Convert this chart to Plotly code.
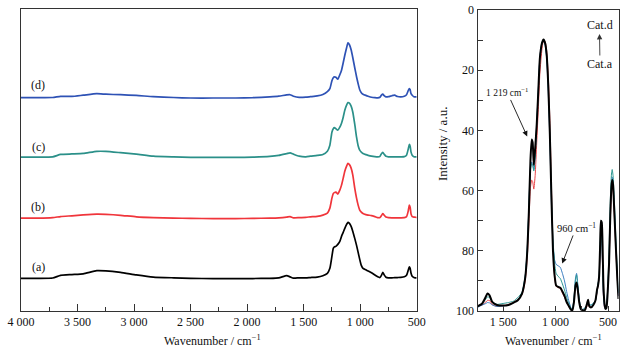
import plotly.graph_objects as go

# ---------------- Left panel: stacked FT-IR spectra ----------------
wn_left = [4000, 3850, 3720, 3650, 3550, 3450, 3330, 3250, 3120, 2980, 2830, 2650, 2500,
           2300, 2100, 1950, 1800, 1720, 1650, 1620, 1590, 1540, 1480, 1440, 1380, 1330,
           1290, 1268, 1250, 1238, 1228, 1215, 1198, 1180, 1165, 1150, 1136, 1120, 1108,
           1095, 1080, 1065, 1048, 1032, 1018, 1004, 990, 975, 950, 930, 900, 870, 845,
           825, 812, 800, 788, 772, 750, 720, 695, 670, 640, 610, 590, 575, 565, 558, 550,
           540, 525, 510, 500]

spec_a = [0, 0, 0.3, 3, 3.8, 4.5, 7.7, 7.5, 6, 3.5, 1.3, 0.5, 0,
          -0.3, -0.3, -0.2, 0, 0.5, 2.7, 1.5, 0.2, 0.5, 0.5, 0.8, 1.2, 2.5,
          5, 10, 22, 30, 31.5, 32, 34, 37, 42, 46, 50, 54, 56,
          55, 52, 47, 40, 33, 26, 19, 13, 10, 8.5, 7.3, 5.5, 3.3, 1.5,
          0.8, 3, 6, 3.5, 1, 0.5, 0.5, 0.7, 0.8, 1, 1.5, 3, 8, 11.5, 10, 5,
          2, 0.8, 0.5, 0.3]

spec_b = [0, 0, 0.5, 1.5, 2.3, 3.2, 4, 3.8, 2.8, 1.3, 0.5, 0, -0.3,
          -0.5, -0.5, -0.3, 0, 0.3, 1, 1.5, 0.3, 0.5, 0.8, 1.3, 1.8, 3,
          5, 10, 20, 24.5, 25.5, 26, 24, 28, 33, 40, 47, 52, 54.7,
          53.5, 50, 43, 30, 20, 13, 8, 6, 4.5, 3.5, 3, 2.5, 1.5, 0.5,
          0.5, 2.5, 4.5, 3, 1, 0.5, 0.3, 0.3, 0.3, 0.3, 0.5, 1.5, 7, 13, 11, 4,
          1.5, 1, 0.8, 0.5]

spec_c = [0, 0, 0.3, 2.7, 3.2, 3.7, 5.8, 5.8, 4.5, 3, 1, 0.2, -0.3,
          -0.3, -0.3, 0, 0.7, 1.7, 3.5, 4.3, 3, 1, 0.3, 1, 1.7, 2.7,
          6, 12, 25, 28.5, 29.5, 28.5, 27, 30, 34, 40, 47, 52, 54.7,
          54, 51, 45, 33, 20, 11.5, 7, 5, 3.7, 2.5, 1.8, 1, 0.5, 0.3,
          0.8, 3.5, 4.7, 3, 0.8, 0.3, 0.3, 0.3, 0.3, 0.3, 0.5, 2, 8, 12.7, 11, 5,
          2, 0.5, 0.3, 0.3]

spec_d = [0, 0, 0.2, 1.3, 1.3, 2.5, 4, 3.5, 3, 2.3, 1, 0.2, -0.3,
          -0.3, -0.3, 0, 0.8, 1.5, 2.8, 3, 1.5, 0.3, 0.5, 1, 1.8, 3.2,
          6, 9, 17, 20, 20.8, 20.5, 18.5, 23, 27.5, 35, 42.5, 50, 55,
          53, 48, 40, 30, 21, 14, 8, 5, 3.5, 2.3, 1.5, 0.5, 0, -0.2,
          0.5, 2.5, 3.5, 2, 0.8, 1, 2, 2.5, 1.2, 0.8, 1.5, 3, 7, 9.2, 8, 4,
          2.5, 1, 0.8, 0.8]

left_labels = ["(a)", "(b)", "(c)", "(d)"]
left_offsets = [32.7, 93, 154, 213.5]
left_series = [spec_a, spec_b, spec_c, spec_d]
left_colors = ["#000000", "#f0353b", "#2b9089", "#2e52b5"]

left_ticks = [4000, 3500, 3000, 2500, 2000, 1500, 1000, 500]
left_ticktext = ["4 000", "3 500", "3 000", "2 500", "2 000", "1 500", "1 000", "500"]

# ---------------- Right panel: overlaid spectra (Cat.a - Cat.d) ----------------
wn_right = [1745, 1700, 1665, 1650, 1630, 1605, 1560, 1500, 1450, 1400, 1360, 1320, 1290,
            1270, 1255, 1240, 1228, 1219, 1208, 1195, 1180, 1165, 1150, 1130, 1115, 1100,
            1085, 1070, 1055, 1040, 1025, 1010, 995, 975, 955, 935, 915, 895, 875, 855,
            840, 825, 810, 800, 790, 775, 760, 740, 720, 700, 690, 678, 660, 640, 620,
            605, 595, 585, 575, 568, 560, 552, 545, 535, 525, 515, 505, 490, 478, 467,
            460, 452, 440, 425, 410, 400]

int_a = [98.5, 97.5, 95.2, 94.2, 94.8, 97, 98, 98.2, 98, 97.2, 96.4, 94.2, 89,
         80, 67, 50, 43, 44, 51.5, 46, 38, 27, 16, 11, 9.8, 11,
         15, 25, 41, 62, 80, 88, 91.5, 92, 92.3, 93.5, 95, 97, 98.3, 99.5,
         99.8, 97, 91.5, 90.5, 92.5, 97, 99.3, 99.8, 99.7, 97.5, 96.3, 98.5, 98.8, 98, 96.5,
         93, 91.5, 88.5, 78, 70, 70.5, 78, 90, 97, 99.3, 99, 95, 84, 68, 58.5,
         56.5, 58, 67, 79, 90, 96]
int_b = [98.5, 98, 97, 96.5, 96.5, 97.8, 98.5, 98.3, 97.8, 97, 96.2, 94.5, 90,
         82, 71, 59, 56.5, 57, 59.5, 55, 44, 33, 21, 13, 10, 10.5,
         13.5, 22, 36, 58, 78, 88.5, 91.8, 92.2, 92.5, 94, 95.5, 97, 98.5, 99.5,
         99.8, 97, 91, 90.5, 92.5, 97, 99.3, 99.8, 99.5, 98.5, 98, 98.5, 98.5, 98, 96.5,
         94, 91.5, 89, 80, 74, 76, 85, 94, 98.5, 99.3, 98.5, 94, 84, 70, 60,
         58, 59.5, 68, 80, 90, 95]
int_c = [98.5, 97.5, 96, 95.3, 95.5, 97, 97.8, 97.5, 97.2, 96.7, 95.5, 93.8, 88.5,
         79.5, 66, 53, 51, 51.5, 53.5, 49, 38, 27, 16, 11, 9.8, 11,
         15, 25, 40, 60, 76, 84, 87.5, 88.5, 89.2, 91, 93, 95.5, 97.5, 99,
         99.5, 96, 89.5, 88, 91, 96, 99, 99.5, 99, 98, 97.5, 98, 98, 97.5, 96.5,
         93.5, 91, 88.5, 77, 73, 75, 84, 93, 97.5, 99, 98, 93.5, 80, 63, 54.5,
         53, 55, 63, 76, 88, 94]
int_d = [98.8, 98, 97.5, 97.2, 97.3, 98, 98.5, 98.3, 98, 97.2, 96.3, 94, 88.5,
         79, 65.5, 52, 50.5, 51, 53, 48, 37.5, 26.5, 15.5, 10.8, 9.8, 11.5,
         16, 27, 43, 64, 78, 83, 84.5, 85, 85.5, 87.5, 90, 93.5, 96.5, 98.8,
         99.5, 96, 89, 87.5, 90.5, 96, 99, 99.5, 99, 98, 97.5, 98, 98, 97.5, 96.5,
         93.5, 91, 89, 79, 74.5, 76, 85, 94, 98.5, 99.3, 98.5, 94.5, 83, 67, 57.5,
         55.5, 57, 66, 78.5, 89.5, 95]

right_series = [("Cat.b", int_b, "#e8474a", 1.0),
                ("Cat.d", int_d, "#3b7fc0", 1.0),
                ("Cat.c", int_c, "#2a9690", 1.0),
                ("Cat.a", int_a, "#000000", 2.0)]

right_ticks = [1500, 1000, 500]
right_ticktext = ["1 500", "1 000", "500"]
right_yticks = [0, 20, 40, 60, 80, 100]

FONT = "Liberation Serif"
W, H = 639, 352

fig = go.Figure()

for lab, off, vals, col in zip(left_labels, left_offsets, left_series, left_colors):
    fig.add_trace(go.Scatter(
        x=wn_left, y=[off + v for v in vals], mode="lines", name=lab,
        line=dict(color=col, width=1.7, shape="spline", smoothing=0.5),
        xaxis="x", yaxis="y", showlegend=False, hoverinfo="skip"))

for name, vals, col, w in right_series:
    fig.add_trace(go.Scatter(
        x=wn_right, y=vals, mode="lines", name=name,
        line=dict(color=col, width=w, shape="spline", smoothing=0.5),
        xaxis="x2", yaxis="y2", showlegend=False, hoverinfo="skip"))

ydom = [1 - 311 / H, 1 - 9.3 / H]
ydom2 = [1 - 311 / H, 1 - 10 / H]

axis_common = dict(showline=True, linecolor="#333333", linewidth=1, mirror=True,
                   showgrid=False, zeroline=False, automargin=False,
                   tickfont=dict(family=FONT, size=12, color="#111111"))

fig.update_layout(
    width=W, height=H, autosize=False,
    margin=dict(l=0, r=0, t=0, b=0, pad=0, autoexpand=False),
    paper_bgcolor="white", plot_bgcolor="white",
    xaxis=dict(domain=[21 / W, 416.7 / W], range=[4000, 500],
               tickmode="array", tickvals=left_ticks, ticktext=left_ticktext,
               ticks="inside", ticklen=7, tickcolor="#333333",
               minor=dict(ticks="inside", ticklen=4, dtick=250, tick0=0, tickcolor="#333333"),
               anchor="y", **axis_common),
    yaxis=dict(domain=ydom, range=[0, 302], showticklabels=False, ticks="",
               anchor="x", **axis_common),
    xaxis2=dict(domain=[477.5 / W, 618.5 / W], range=[1745, 400],
                tickmode="array", tickvals=right_ticks, ticktext=right_ticktext,
                ticks="inside", ticklen=5, tickcolor="#333333",
                minor=dict(ticks="inside", ticklen=5, dtick=250, tick0=0, tickcolor="#333333"),
                anchor="y2", **axis_common),
    yaxis2=dict(domain=ydom2, range=[100, 0],
                tickmode="array", tickvals=right_yticks,
                ticks="inside", ticklen=5, tickcolor="#333333",
                minor=dict(ticks="inside", ticklen=5, dtick=10, tick0=0, tickcolor="#333333"),
                anchor="x2", **axis_common),
)

ann = []
# curve labels on left panel
label_y = [266.7, 206.7, 146.7, 85]
for lab, yy in zip(left_labels, label_y):
    ann.append(dict(text=lab, xref="paper", yref="paper", x=38 / W, y=1 - yy / H,
                    showarrow=False, font=dict(family=FONT, size=12, color="#111111"),
                    xanchor="center", yanchor="middle"))
# axis titles
ann.append(dict(text="Wavenumber / cm<sup>−1</sup>", xref="paper", yref="paper",
                x=212 / W, y=1 - 340 / H, showarrow=False,
                font=dict(family=FONT, size=12, color="#111111"),
                xanchor="center", yanchor="middle"))
ann.append(dict(text="Wavenumber / cm<sup>−1</sup>", xref="paper", yref="paper",
                x=553 / W, y=1 - 340 / H, showarrow=False,
                font=dict(family=FONT, size=12, color="#111111"),
                xanchor="center", yanchor="middle"))
ann.append(dict(text="Intensity / a.u.", xref="paper", yref="paper",
                x=442 / W, y=1 - 144 / H, showarrow=False, textangle=-90,
                font=dict(family=FONT, size=13, color="#111111"),
                xanchor="center", yanchor="middle"))
# peak annotations on right panel
ann.append(dict(text="1 219 cm<sup>−1</sup>", xref="x2", yref="y2", x=1271, y=42,
                ax=-20, ay=-44, showarrow=True, arrowhead=2, arrowsize=1.2, arrowwidth=0.9,
                arrowcolor="#111111", font=dict(family=FONT, size=9.5, color="#111111")))
ann.append(dict(text="960 cm<sup>−1</sup>", xref="x2", yref="y2", x=937, y=84.2,
                ax=14, ay=-36, showarrow=True, arrowhead=2, arrowsize=1.2, arrowwidth=0.9,
                arrowcolor="#111111", font=dict(family=FONT, size=10.5, color="#111111")))
ann.append(dict(text="Cat.d", xref="paper", yref="paper", x=600 / W, y=1 - 25 / H,
                showarrow=False, font=dict(family=FONT, size=12, color="#111111"),
                xanchor="center", yanchor="middle"))
ann.append(dict(text="Cat.a", xref="paper", yref="paper", x=599.5 / W, y=1 - 34 / H,
                ax=0.5, ay=30, showarrow=True, arrowhead=2, arrowsize=1.2, arrowwidth=0.9,
                arrowcolor="#333333", font=dict(family=FONT, size=12, color="#111111")))
fig.update_layout(annotations=ann)

fig.write_html("out.html", config={"displayModeBar": False},
               post_script="document.body.style.margin='0';document.body.style.overflow='hidden';")
